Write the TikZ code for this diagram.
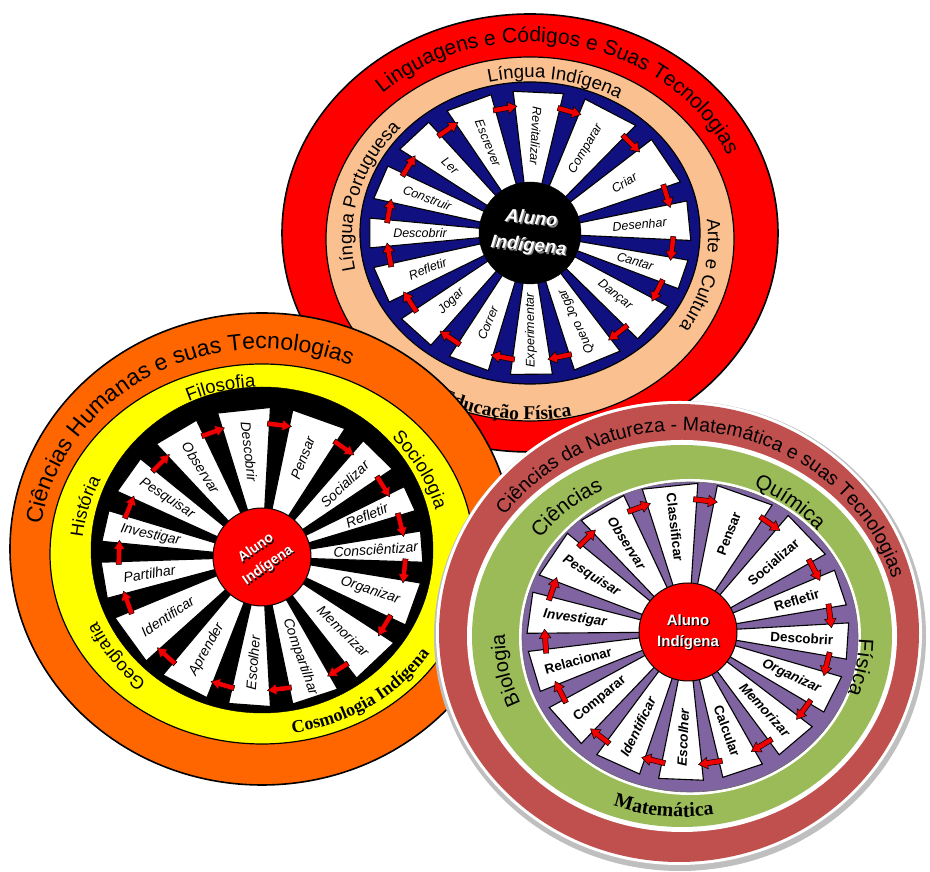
\documentclass[tikz,border=0pt]{standalone}
\usepackage{fontspec}
\setmainfont{Liberation Serif}
\setsansfont{Liberation Sans}
\usetikzlibrary{decorations.text,calc}
\definecolor{topred}{RGB}{255,0,0}
\definecolor{peach}{RGB}{250,192,144}
\definecolor{navyring}{RGB}{16,16,128}
\definecolor{orangeband}{RGB}{255,102,0}
\definecolor{yellowband}{RGB}{255,255,0}
\definecolor{brownband}{RGB}{192,80,77}
\definecolor{greenband}{RGB}{155,187,89}
\definecolor{purplering}{RGB}{128,100,162}
\definecolor{arrowred}{RGB}{240,0,0}
\tikzset{
  rarr/.pic={\filldraw[fill=arrowred,draw=black,line width=0.5pt] (-12,-2.6) -- (3,-2.6) -- (3,-5.8) -- (12,0) -- (3,5.8) -- (3,2.6) -- (-12,2.6) -- cycle;},
  blade/.style={fill=white,draw=black,line width=1.1pt},
  word/.style={inner sep=0pt},
}
\newcommand\arctext[7]{%
  \path[decorate,decoration={text along path,text align=center,text={|#6|#7}}]
    ($(#1)+(#2:#4 and #5)$) arc[start angle=#2,end angle=#3,x radius=#4,y radius=#5];}
\newcommand\alunotxt[4]{%
  \node[align=center,rotate=#2,text=#4,font=#3,inner sep=0pt] at ($(#1)+(1.3,-1.3)$) {Aluno\\Indígena};
  \node[align=center,rotate=#2,text=white,font=#3,inner sep=0pt] at (#1) {Aluno\\Indígena};}
\def\toplist{74/100/Revitalizar/0,45/74/Comparar/0,17/45/Criar/0,-7/17/Desenhar/0,-27/-7/Cantar/0,-52/-27/Dançar/0,-78/-52/Quero Jogar/180,259/282/Experimentar/0,236/259/Correr/0,213/236/Jogar/0,190/213/Refletir/0,170/190/Descobrir/0,148/170/Construir/0,125/148/Ler/0,100/125/Escrever/0}
\def\leftlist{83/110/Descobrir/0,55/83/Pensar/0,32/55/Socializar/0,14/32/Refletir/0,-6/14/Consciêntizar/0,-31/-6/Organizar/0,-58/-31/Memorizar/0,-83/-58/Compartilhar/0,254/277/Escolher/0,228/254/Aprender/0,200/228/Identificar/0,178/200/Partilhar/0,158/178/Investigar/0,135/158/Pesquisar/0,110/135/Observar/0}
\def\rightlist{83/110/Classificar/0,55/83/Pensar/0,28/55/Socializar/0,7/28/Refletir/0,-14/7/Descobrir/0,-36/-14/\itshape Organizar/0,-59/-36/\itshape Memorizar/0,-81/-59/Calcular/0,256/279/\itshape Escolher/0,232/256/\itshape Identificar/0,207/232/Comparar/0,184/207/Relacionar/0,161/184/\itshape Investigar/0,135/161/\itshape Pesquisar/0,110/135/\itshape Observar/0}
\begin{document}
\begin{tikzpicture}[x=1pt,y=1pt]
\useasboundingbox (0,0) rectangle (930,872);
% ================= TOP WHEEL =================
\coordinate (T) at (530,639);
\coordinate (TP) at (530,633);
\filldraw[fill=topred,draw=black,line width=1.6pt] (T) ellipse [x radius=248,y radius=219];
\filldraw[fill=peach,draw=black,line width=1.2pt] (TP) ellipse [x radius=204,y radius=182];
\filldraw[fill=navyring,draw=black,line width=1.2pt] (T) ellipse [x radius=170,y radius=151];
\begin{scope}[shift={(T)},yscale=0.885]
  \foreach \a/\b/\w/\f in \toplist {
    \filldraw[blade] ({\a+4}:42) -- ({\a+4}:161) -- ({\b-4}:161) -- ({\b-4}:42) -- cycle;
  }
  \foreach \a/\b/\w/\f in \toplist {
    \pgfmathsetmacro\mid{(\a+\b)/2}
    \pgfmathsetmacro\rotw{ifthenelse(and(\mid>85,\mid<275),\mid-180,\mid)+\f}
    \node[word,font=\sffamily\itshape\fontsize{12.5}{12.5}\selectfont,rotate=\rotw] at (\mid:110) {\w};
  }
  \foreach \a/\b/\w/\f in \toplist { \pic[rotate=\a-90] at (\a:143) {rarr}; }
\end{scope}
\filldraw[fill=black,draw=black] (T) circle[radius=51];
\coordinate (TC) at (530,639);
\alunotxt{TC}{-6}{\sffamily\bfseries\itshape\fontsize{18.5}{27}\selectfont}{gray}
\arctext{T}{168}{-12}{216}{191}{\sffamily\fontsize{21}{21}\selectfont}{Linguagens e Códigos e Suas Tecnologias}
\arctext{TP}{171}{-9}{178}{161}{\sffamily\fontsize{18.5}{18.5}\selectfont}{Língua Indígena}
\arctext{TP}{255}{75}{178}{161}{\sffamily\fontsize{18.5}{18.5}\selectfont}{Língua Portuguesa}
\arctext{TP}{78}{-102}{178}{161}{\sffamily\fontsize{18.5}{18.5}\selectfont}{Arte e Cultura}
\arctext{TP}{172}{352}{200}{181}{\rmfamily\bfseries\fontsize{19.5}{19.5}\selectfont}{Educação Física}
% ================= LEFT WHEEL =================
\coordinate (L) at (262,315);
\coordinate (LA) at (262,318);
\filldraw[fill=orangeband,draw=black,line width=1.6pt] (262,323) ellipse [x radius=252,y radius=236];
\filldraw[fill=yellowband,draw=black,line width=1.2pt] (262,318) ellipse [x radius=212,y radius=190];
\filldraw[fill=black] (262,322) ellipse [x radius=171,y radius=163];
\begin{scope}[shift={(L)},yscale=0.93]
  \foreach \a/\b/\w/\f in \leftlist {
    \filldraw[blade] ({\a+4}:42) -- ({\a+4}:161) -- ({\b-4}:161) -- ({\b-4}:42) -- cycle;
  }
  \foreach \a/\b/\w/\f in \leftlist {
    \pgfmathsetmacro\mid{(\a+\b)/2}
    \pgfmathsetmacro\rotw{ifthenelse(and(\mid>85,\mid<275),\mid-180,\mid)+\f}
    \node[word,font=\sffamily\itshape\fontsize{14}{14}\selectfont,rotate=\rotw] at (\mid:114) {\w};
  }
  \foreach \a/\b/\w/\f in \leftlist { \pic[rotate=\a-90] at (\a:143) {rarr}; }
\end{scope}
\filldraw[fill=topred,draw=black,line width=1pt] (L) circle[radius=49];
\alunotxt{L}{35}{\sffamily\bfseries\fontsize{14}{21}\selectfont}{black}
\arctext{LA}{210}{30}{223}{205}{\sffamily\fontsize{23}{23}\selectfont}{Ciências Humanas e suas Tecnologias}
\arctext{LA}{194}{14}{180}{167}{\sffamily\fontsize{18.5}{18.5}\selectfont}{Filosofia}
\arctext{LA}{118}{-62}{180}{167}{\sffamily\fontsize{18.5}{18.5}\selectfont}{Sociologia}
\arctext{LA}{305}{125}{180}{167}{\sffamily\fontsize{18}{18}\selectfont}{Geografia}
\arctext{LA}{255}{75}{180}{167}{\sffamily\fontsize{18}{18}\selectfont}{História}
\arctext{LA}{-145}{35}{201}{181}{\rmfamily\bfseries\fontsize{18}{18}\selectfont}{Cosmologia Indígena}
% ================= RIGHT WHEEL =================
\coordinate (R) at (688,240);
\coordinate (RA) at (682,236);
\fill[black!25] (680,236) ellipse [x radius=246,y radius=235];
\fill[white] (679,239) ellipse [x radius=243,y radius=232];
\fill[brownband] (679,239) ellipse [x radius=240,y radius=229];
\fill[white] (682,236) ellipse [x radius=215,y radius=196];
\fill[greenband] (682,236) ellipse [x radius=210,y radius=191];
\fill[white] (690,235) ellipse [x radius=171,y radius=158];
\filldraw[fill=purplering,draw=black!60,line width=0.6pt] (690,235) ellipse [x radius=168,y radius=155];
\begin{scope}[shift={(R)},yscale=0.925]
  \foreach \a/\b/\w/\f in \rightlist {
    \filldraw[blade] ({\a+3.5}:42) -- ({\a+3.5}:161) -- ({\b-3.5}:161) -- ({\b-3.5}:42) -- cycle;
  }
  \foreach \a/\b/\w/\f in \rightlist {
    \pgfmathsetmacro\mid{(\a+\b)/2}
    \pgfmathsetmacro\rotw{ifthenelse(and(\mid>85,\mid<275),\mid-180,\mid)+\f}
    \node[word,font=\sffamily\bfseries\fontsize{13.5}{13.5}\selectfont,rotate=\rotw] at (\mid:114) {\w};
  }
  \foreach \a/\b/\w/\f in \rightlist { \pic[rotate=\a-90] at (\a:143) {rarr}; }
\end{scope}
\filldraw[fill=topred,draw=black,line width=1pt] (R) circle[radius=49];
\alunotxt{R}{0}{\sffamily\bfseries\fontsize{15}{21}\selectfont}{black}
\arctext{RA}{170}{-10}{219}{205}{\sffamily\fontsize{19.5}{19.5}\selectfont}{Ciências da Natureza - Matemática e suas Tecnologias}
\arctext{RA}{222}{42}{177}{163}{\sffamily\fontsize{21}{21}\selectfont}{Ciências}
\arctext{RA}{141}{-39}{177}{163}{\sffamily\fontsize{21}{21}\selectfont}{Química}
\arctext{RA}{80}{-100}{177}{163}{\sffamily\fontsize{21}{21}\selectfont}{Física}
\arctext{RA}{281}{101}{177}{163}{\sffamily\fontsize{20}{20}\selectfont}{Biologia}
\arctext{RA}{174}{354}{198}{181}{\rmfamily\bfseries\fontsize{20}{20}\selectfont}{Matemática}
\end{tikzpicture}
\end{document}
